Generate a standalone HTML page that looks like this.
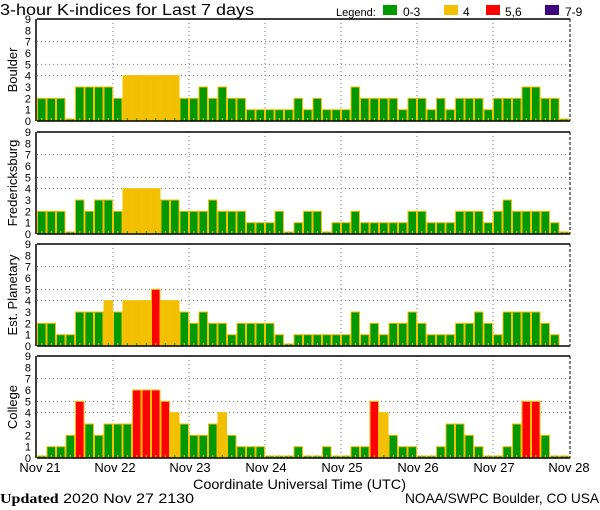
<!DOCTYPE html>
<html><head><meta charset="utf-8"><style>
html,body{margin:0;padding:0;background:#fff;}
svg{display:block;}
text{font-family:"Liberation Sans",sans-serif;fill:#000;}
</style></head><body>
<svg id="s" width="600" height="510" viewBox="0 0 600 510" xmlns="http://www.w3.org/2000/svg">
<text x="0" y="15" font-size="16" textLength="254" lengthAdjust="spacingAndGlyphs">3-hour K-indices for Last 7 days</text>
<text x="336" y="16" font-size="11">Legend:</text>
<rect x="383" y="5" width="14" height="10" fill="#009900"/><text x="403" y="16" font-size="12">0-3</text>
<rect x="444" y="5" width="14" height="10" fill="#f2c000"/><text x="463" y="16" font-size="12">4</text>
<rect x="486" y="5" width="14" height="10" fill="#ff0000"/><text x="505" y="16" font-size="12">5,6</text>
<rect x="545" y="5" width="14" height="10" fill="#400080"/><text x="565" y="16" font-size="12">7-9</text>
<text transform="translate(17,70) rotate(-90)" font-size="13" text-anchor="middle">Boulder</text>
<text transform="translate(17,183) rotate(-90)" font-size="13" text-anchor="middle">Fredericksburg</text>
<text transform="translate(17,295) rotate(-90)" font-size="13" text-anchor="middle">Est. Planetary</text>
<text transform="translate(17,407) rotate(-90)" font-size="13" text-anchor="middle">College</text>
<g font-size="13" text-anchor="middle">
<text x="40" y="472">Nov 21</text><text x="115" y="472">Nov 22</text><text x="190" y="472">Nov 23</text><text x="266" y="472">Nov 24</text><text x="342" y="472">Nov 25</text><text x="418" y="472">Nov 26</text><text x="494" y="472">Nov 27</text><text x="569" y="472">Nov 28</text>
</g>
<text x="193" y="489" font-size="14" textLength="213" lengthAdjust="spacingAndGlyphs">Coordinate Universal Time (UTC)</text>
<text x="0" y="503" font-size="14" textLength="194" lengthAdjust="spacingAndGlyphs"><tspan font-family="Liberation Serif" font-weight="bold">Updated</tspan> 2020 Nov 27 2130</text>
<text x="405" y="503" font-size="14" textLength="194" lengthAdjust="spacingAndGlyphs">NOAA/SWPC Boulder, CO USA</text>
<g id="g"></g>
</svg>
<script>
var P=[
{t:19,b:121,v:[2,2,2,0,3,3,3,3,2,4,4,4,4,4,4,2,2,3,2,3,2,2,1,1,1,1,1,2,1,2,1,1,1,3,2,2,2,2,1,2,2,1,2,1,2,2,2,1,2,2,2,3,3,2,2,0]},
{t:132,b:234,v:[2,2,2,0,3,2,3,3,2,4,4,4,4,3,3,2,2,2,3,2,2,2,1,1,1,2,0,1,2,2,0,1,1,2,1,1,1,1,1,2,2,1,1,1,2,2,2,1,2,3,2,2,2,2,1,0]},
{t:244,b:346,v:[2,2,1,1,3,3,3,4,3,4,4,4,5,4,4,3,2,3,2,2,1,2,2,2,2,1,0,1,1,1,1,1,1,3,1,2,1,2,2,3,2,1,1,1,2,2,3,2,1,3,3,3,3,2,1,null]},
{t:356,b:458,v:[0,1,1,2,5,3,2,3,3,3,6,6,6,5,4,3,2,2,3,4,2,1,1,1,0,0,0,1,0,0,1,0,0,1,1,5,4,2,1,1,0,0,1,3,3,2,1,0,0,1,3,5,5,2,0,0]}];
var g=document.getElementById('g'),h='';
var X0=37,W=9.5,X1=570;
P.forEach(function(p){
 var u=(p.b-p.t)/9;
 [4,5,7].forEach(function(k){var y=p.b-k*u;h+='<line x1="'+X0+'" x2="'+X1+'" y1="'+y+'" y2="'+y+'" stroke="#777" stroke-dasharray="1,3"/>';});
 for(var d=1;d<7;d++){var x=X0+d*76;h+='<line x1="'+x+'" x2="'+x+'" y1="'+p.t+'" y2="'+p.b+'" stroke="#777" stroke-dasharray="1,3"/>';}
 for(var k=0;k<=9;k++){h+='<text x="31" y="'+(p.b-k*u+4)+'" font-size="11" text-anchor="end">'+k+'</text>';}
 p.v.forEach(function(v,i){
  if(v===null)return;
  var x=X0+i*W,hh=v===0?2:v*u,c=v<=3?'#009900':v==4?'#f2c000':v<=6?'#ff0000':'#400080';
  h+='<rect x="'+(x+0.5)+'" y="'+(p.b-hh)+'" width="'+(W-1)+'" height="'+hh+'" fill="'+c+'" stroke="#f5c000" stroke-width="1"/>';
  h+='<rect x="'+(x+4.3)+'" y="'+(p.b-3)+'" width="1" height="3" fill="'+(v==4?'#009900':'#f5c000')+'"/>';
 });
 h+='<line x1="'+X0+'" x2="'+X1+'" y1="'+p.t+'" y2="'+p.t+'" stroke="#000" stroke-width="1.5"/>';
 h+='<line x1="'+X0+'" x2="'+X1+'" y1="'+p.b+'" y2="'+p.b+'" stroke="#000" stroke-width="1.5"/>';
 h+='<line x1="'+(X0-1)+'" x2="'+(X0-1)+'" y1="'+p.t+'" y2="'+p.b+'" stroke="#000" stroke-width="1.5"/>';
 h+='<line x1="'+X1+'" x2="'+X1+'" y1="'+p.t+'" y2="'+p.b+'" stroke="#000" stroke-width="1" stroke-dasharray="3,2"/>';
});
g.innerHTML=h;
</script>
</body></html>
